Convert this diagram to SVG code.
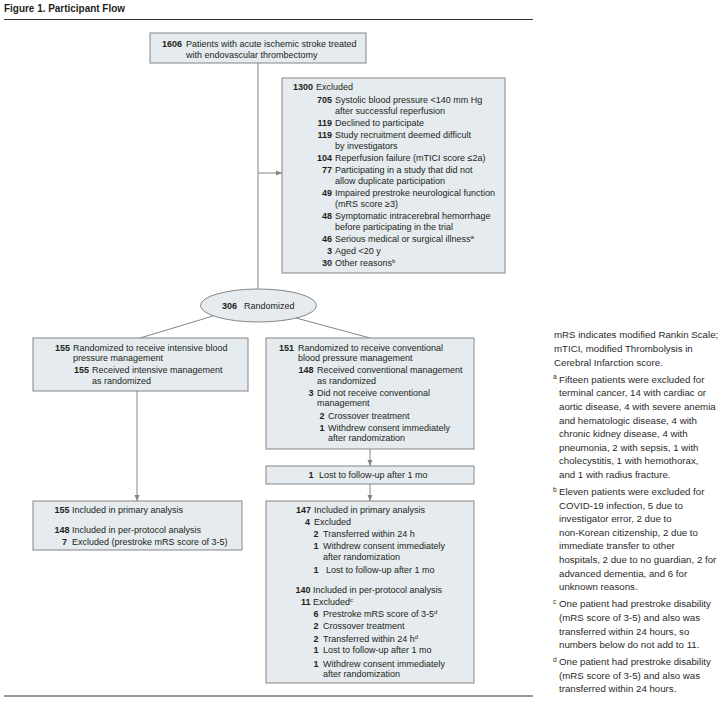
<svg xmlns="http://www.w3.org/2000/svg" width="723" height="707" viewBox="0 0 723 707">
<defs>
<style>
text{font-family:"Liberation Sans",Arial,sans-serif;fill:#231f20}
.f{font-size:9px}
.b{font-weight:bold}
.e{text-anchor:end}
.s{font-size:6px}
.n{font-size:9.7px;fill:#2a2a2a}
.ns{font-size:6.5px;fill:#2a2a2a}
.box{fill:#e5ebef;stroke:#858585;stroke-width:1}
.con{stroke:#858585;stroke-width:1;fill:none}
.rule{stroke:#333;stroke-width:1}
</style>
<marker id="ah" markerWidth="6" markerHeight="6" refX="6" refY="3" orient="auto" markerUnits="userSpaceOnUse">
<path d="M0,0.5 L6,3 L0,5.5 z" fill="#858585"/>
</marker>
</defs>
<rect x="0" y="0" width="723" height="707" fill="#fff"/>
<text x="4" y="12" class="b" font-size="10.5" textLength="121" lengthAdjust="spacingAndGlyphs">Figure 1. Participant Flow</text>
<line class="rule" x1="4" y1="19.5" x2="533" y2="19.5"/>
<line class="rule" x1="4" y1="696" x2="533" y2="696"/>

<g id="connectors">
<line class="con" x1="258" y1="63" x2="258" y2="289"/>
<line class="con" x1="258" y1="173" x2="282" y2="173" marker-end="url(#ah)"/>
<line class="con" x1="213" y1="316" x2="140" y2="338"/>
<line class="con" x1="296" y1="318" x2="370" y2="338"/>
<line class="con" x1="137" y1="391" x2="137" y2="501" marker-end="url(#ah)"/>
<line class="con" x1="370" y1="449" x2="370" y2="466" marker-end="url(#ah)"/>
<line class="con" x1="370" y1="484" x2="370" y2="501" marker-end="url(#ah)"/>
</g>

<g id="patients">
<rect class="box" x="150" y="33" width="216" height="30"/>
<text class="f b e" x="182" y="47">1606</text>
<text class="f" x="186" y="47">Patients with acute ischemic stroke treated</text>
<text class="f" x="186" y="57.5">with endovascular thrombectomy</text>
</g>

<g id="excluded">
<rect class="box" x="282" y="78" width="223" height="195"/>
<text class="f b e" x="313" y="90.2">1300</text>
<text class="f" x="316" y="90.2">Excluded</text>
<text class="f b e" x="332" y="103.2">705</text>
<text class="f" x="335" y="103.2">Systolic blood pressure &lt;140 mm Hg</text>
<text class="f" x="335" y="113.7">after successful reperfusion</text>
<text class="f b e" x="332" y="126">119</text>
<text class="f" x="335" y="126">Declined to participate</text>
<text class="f b e" x="332" y="138.3">119</text>
<text class="f" x="335" y="138.3">Study recruitment deemed difficult</text>
<text class="f" x="335" y="148.8">by investigators</text>
<text class="f b e" x="332" y="161.1">104</text>
<text class="f" x="335" y="161.1">Reperfusion failure (mTICI score ≤2a)</text>
<text class="f b e" x="332" y="173.4">77</text>
<text class="f" x="335" y="173.4">Participating in a study that did not</text>
<text class="f" x="335" y="183.9">allow duplicate participation</text>
<text class="f b e" x="332" y="196.2">49</text>
<text class="f" x="335" y="196.2">Impaired prestroke neurological function</text>
<text class="f" x="335" y="206.7">(mRS score ≥3)</text>
<text class="f b e" x="332" y="219">48</text>
<text class="f" x="335" y="219">Symptomatic intracerebral hemorrhage</text>
<text class="f" x="335" y="229.5">before participating in the trial</text>
<text class="f b e" x="332" y="241.8">46</text>
<text class="f" x="335" y="241.8">Serious medical or surgical illness<tspan class="s" dy="-3">a</tspan></text>
<text class="f b e" x="332" y="254.1">3</text>
<text class="f" x="335" y="254.1">Aged &lt;20 y</text>
<text class="f b e" x="332" y="266.4">30</text>
<text class="f" x="335" y="266.4">Other reasons<tspan class="s" dy="-3">b</tspan></text>
</g>

<g id="randomized">
<ellipse class="box" cx="258.5" cy="305.5" rx="58" ry="16.5"/>
<text class="f b e" x="237" y="309">306</text>
<text class="f" x="244" y="309">Randomized</text>
</g>

<g id="intensive">
<rect class="box" x="33" y="338" width="215" height="53"/>
<text class="f b e" x="70" y="350.7">155</text>
<text class="f" x="73" y="350.7">Randomized to receive intensive blood</text>
<text class="f" x="73" y="361.2">pressure management</text>
<text class="f b e" x="89" y="373.2">155</text>
<text class="f" x="92" y="373.2">Received intensive management</text>
<text class="f" x="92" y="383.7">as randomized</text>
</g>

<g id="conventional">
<rect class="box" x="266" y="338" width="208" height="111"/>
<text class="f b e" x="294" y="350.7">151</text>
<text class="f" x="298" y="350.7">Randomized to receive conventional</text>
<text class="f" x="298" y="361.2">blood pressure management</text>
<text class="f b e" x="313.5" y="373.2">148</text>
<text class="f" x="317" y="373.2">Received conventional management</text>
<text class="f" x="317" y="383.7">as randomized</text>
<text class="f b e" x="313.5" y="395.7">3</text>
<text class="f" x="317" y="395.7">Did not receive conventional</text>
<text class="f" x="317" y="406.2">management</text>
<text class="f b e" x="324.5" y="418.7">2</text>
<text class="f" x="328" y="418.7">Crossover treatment</text>
<text class="f b e" x="324.5" y="430.7">1</text>
<text class="f" x="328" y="430.7">Withdrew consent immediately</text>
<text class="f" x="328" y="441.2">after randomization</text>
</g>

<g id="lost">
<rect class="box" x="266" y="466" width="208" height="18"/>
<text class="f b e" x="313.5" y="478.2">1</text>
<text class="f" x="319" y="478.2">Lost to follow-up after 1 mo</text>
</g>

<g id="analysis-intensive">
<rect class="box" x="33" y="501" width="209" height="49"/>
<text class="f b e" x="69.5" y="512.5">155</text>
<text class="f" x="72" y="512.5">Included in primary analysis</text>
<text class="f b e" x="69.5" y="532.5">148</text>
<text class="f" x="72" y="532.5">Included in per-protocol analysis</text>
<text class="f b e" x="67" y="544.5">7</text>
<text class="f" x="72" y="544.5">Excluded (prestroke mRS score of 3-5)</text>
</g>

<g id="analysis-conventional">
<rect class="box" x="266" y="501" width="208" height="182"/>
<text class="f b e" x="311" y="512.5">147</text>
<text class="f" x="314" y="512.5">Included in primary analysis</text>
<text class="f b e" x="310" y="525.2">4</text>
<text class="f" x="314" y="525.2">Excluded</text>
<text class="f b e" x="318.5" y="537.2">2</text>
<text class="f" x="323" y="537.2">Transferred within 24 h</text>
<text class="f b e" x="318.5" y="549.2">1</text>
<text class="f" x="323" y="549.2">Withdrew consent immediately</text>
<text class="f" x="323" y="560">after randomization</text>
<text class="f b e" x="318.5" y="572.5">1</text>
<text class="f" x="326" y="572.5">Lost to follow-up after 1 mo</text>
<text class="f b e" x="310.5" y="593.2">140</text>
<text class="f" x="313" y="593.2">Included in per-protocol analysis</text>
<text class="f b e" x="310.5" y="605">11</text>
<text class="f" x="313" y="605">Excluded<tspan class="s" dy="-3">c</tspan></text>
<text class="f b e" x="318.5" y="617.2">6</text>
<text class="f" x="323" y="617.2">Prestroke mRS score of 3-5<tspan class="s" dy="-3">d</tspan></text>
<text class="f b e" x="318.5" y="629.2">2</text>
<text class="f" x="323" y="629.2">Crossover treatment</text>
<text class="f b e" x="318.5" y="641.5">2</text>
<text class="f" x="323" y="641.5">Transferred within 24 h<tspan class="s" dy="-3">d</tspan></text>
<text class="f b e" x="318.5" y="653.2">1</text>
<text class="f" x="323" y="653.2">Lost to follow-up after 1 mo</text>
<text class="f b e" x="318.5" y="666.5">1</text>
<text class="f" x="323" y="666.5">Withdrew consent immediately</text>
<text class="f" x="323" y="676.5">after randomization</text>
</g>

<g id="notes">
<text class="n" x="554" y="338.4">mRS indicates modified Rankin Scale;<tspan x="554" dy="13.6">mTICI, modified Thrombolysis in</tspan><tspan x="554" dy="13.6">Cerebral Infarction score.</tspan></text>
<text class="ns" x="553" y="379.2">a</text>
<text class="n" x="559" y="382.7">Fifteen patients were excluded for<tspan x="559" dy="13.6">terminal cancer, 14 with cardiac or</tspan><tspan x="559" dy="13.6">aortic disease, 4 with severe anemia</tspan><tspan x="559" dy="13.6">and hematologic disease, 4 with</tspan><tspan x="559" dy="13.6">chronic kidney disease, 4 with</tspan><tspan x="559" dy="13.6">pneumonia, 2 with sepsis, 1 with</tspan><tspan x="559" dy="13.6">cholecystitis, 1 with hemothorax,</tspan><tspan x="559" dy="13.6">and 1 with radius fracture.</tspan></text>
<text class="ns" x="553" y="491.5">b</text>
<text class="n" x="559" y="495">Eleven patients were excluded for<tspan x="559" dy="13.6">COVID-19 infection, 5 due to</tspan><tspan x="559" dy="13.6">investigator error, 2 due to</tspan><tspan x="559" dy="13.6">non-Korean citizenship, 2 due to</tspan><tspan x="559" dy="13.6">immediate transfer to other</tspan><tspan x="559" dy="13.6">hospitals, 2 due to no guardian, 2 for</tspan><tspan x="559" dy="13.6">advanced dementia, and 6 for</tspan><tspan x="559" dy="13.6">unknown reasons.</tspan></text>
<text class="ns" x="553" y="603.8">c</text>
<text class="n" x="559" y="607.3">One patient had prestroke disability<tspan x="559" dy="13.6">(mRS score of 3-5) and also was</tspan><tspan x="559" dy="13.6">transferred within 24 hours, so</tspan><tspan x="559" dy="13.6">numbers below do not add to 11.</tspan></text>
<text class="ns" x="553" y="661.7">d</text>
<text class="n" x="559" y="665.2">One patient had prestroke disability<tspan x="559" dy="13.6">(mRS score of 3-5) and also was</tspan><tspan x="559" dy="13.6">transferred within 24 hours.</tspan></text>
</g>
</svg>
